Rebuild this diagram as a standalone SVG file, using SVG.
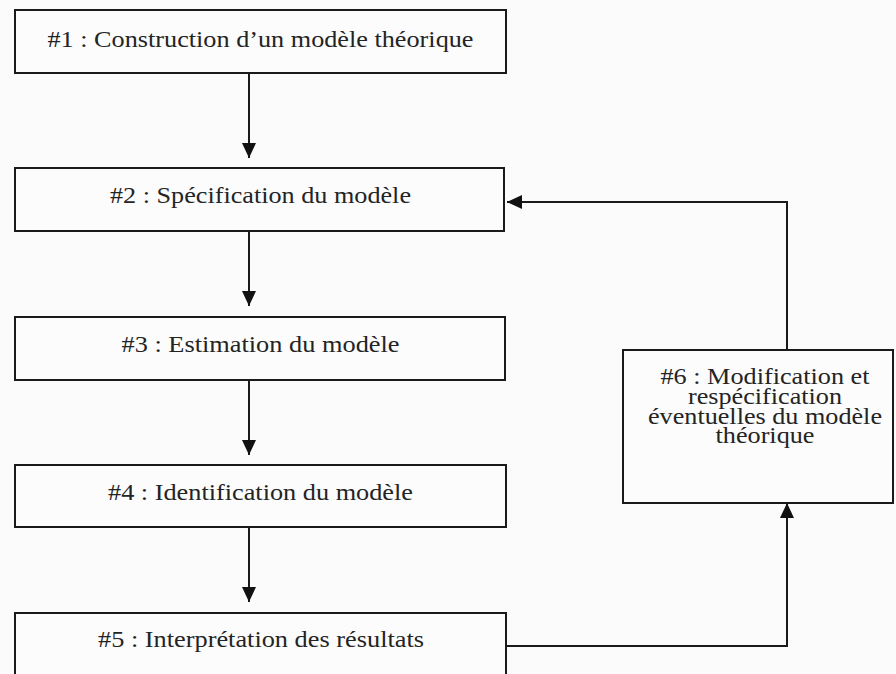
<svg xmlns="http://www.w3.org/2000/svg" width="896" height="674" viewBox="0 0 896 674">
  <style>
    .box { fill: #fcfcfc; stroke: #1a1a1a; stroke-width: 2; }
    .lbl { font-family: "Liberation Serif", "Times New Roman", serif; font-size: 22.7px; fill: #242424; text-anchor: middle; }
    .wire { fill: none; stroke: #1a1a1a; stroke-width: 2; }
  </style>
  <defs>
    <marker id="head" viewBox="0 0 15 14" refX="15" refY="7" markerWidth="15" markerHeight="14" markerUnits="userSpaceOnUse" orient="auto">
      <path d="M0,0 L15,7 L0,14 Z" fill="#111"/>
    </marker>
  </defs>

  <rect width="896" height="674" fill="#fbfbfb"/>

  <g id="step1">
    <rect class="box" x="15" y="10" width="491" height="63"/>
    <text class="lbl" x="260.5" y="47" textLength="426" lengthAdjust="spacingAndGlyphs">#1 : Construction d’un modèle théorique</text>
  </g>

  <g id="step2">
    <rect class="box" x="15" y="168" width="489" height="63"/>
    <text class="lbl" x="260.5" y="203" textLength="301" lengthAdjust="spacingAndGlyphs">#2 : Spécification du modèle</text>
  </g>

  <g id="step3">
    <rect class="box" x="15" y="317" width="490" height="63"/>
    <text class="lbl" x="260.5" y="352" textLength="278" lengthAdjust="spacingAndGlyphs">#3 : Estimation du modèle</text>
  </g>

  <g id="step4">
    <rect class="box" x="15" y="465" width="491" height="62"/>
    <text class="lbl" x="260.5" y="500" textLength="305" lengthAdjust="spacingAndGlyphs">#4 : Identification du modèle</text>
  </g>

  <g id="step5">
    <rect class="box" x="15" y="613" width="491" height="80"/>
    <text class="lbl" x="261" y="647" textLength="326" lengthAdjust="spacingAndGlyphs">#5 : Interprétation des résultats</text>
  </g>

  <g id="step6">
    <rect class="box" x="623" y="350" width="270" height="153"/>
    <text class="lbl" x="765" y="384" textLength="209" lengthAdjust="spacingAndGlyphs">#6 : Modification et</text>
    <text class="lbl" x="765" y="404" textLength="154" lengthAdjust="spacingAndGlyphs">respécification</text>
    <text class="lbl" x="765" y="424" textLength="234" lengthAdjust="spacingAndGlyphs">éventuelles du modèle</text>
    <text class="lbl" x="765" y="443" textLength="99" lengthAdjust="spacingAndGlyphs">théorique</text>
  </g>

  <g id="connectors">
    <path class="wire" d="M249,73 L249,158" marker-end="url(#head)"/>
    <path class="wire" d="M249,231 L249,306" marker-end="url(#head)"/>
    <path class="wire" d="M249,380 L249,455" marker-end="url(#head)"/>
    <path class="wire" d="M249,527 L249,602" marker-end="url(#head)"/>
    <path class="wire" d="M506,646 L787,646 L787,503" marker-end="url(#head)"/>
    <path class="wire" d="M787,350 L787,202 L507,202" marker-end="url(#head)"/>
  </g>
</svg>
